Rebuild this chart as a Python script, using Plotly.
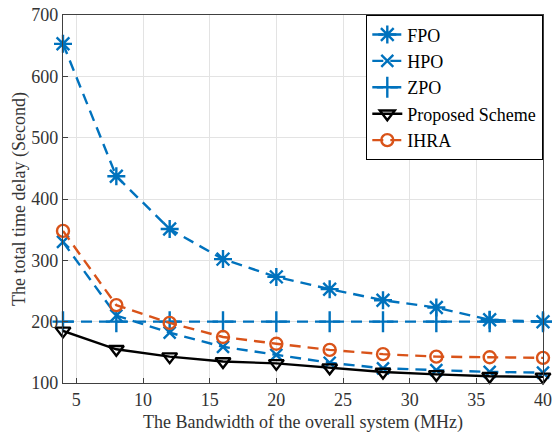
import plotly.graph_objects as go

bandwidth = [4, 8, 12, 16, 20, 24, 28, 32, 36, 40]
fpo = [653, 437, 351, 302, 273, 253, 235, 223, 203, 200]
hpo = [330, 210, 182, 159, 146, 133, 124, 121, 118, 117]
zpo = [200, 200, 200, 200, 200, 200, 200, 200, 200, 200]
proposed = [185, 155, 143, 135, 132, 125, 118, 114, 111, 110]
ihra = [348, 227, 198, 175, 164, 154, 147, 143, 142, 141]

blue = "#0072BD"
orange = "#D95319"

fig = go.Figure()

def add(name, y, color, symbol, dash, size=12):
    fig.add_trace(go.Scatter(
        x=bandwidth, y=y, name=name, mode="lines+markers",
        line=dict(color=color, width=2.4, dash=dash),
        marker=dict(symbol=symbol, size=size, color=color,
                    line=dict(color=color, width=2.4)),
        cliponaxis=False,
    ))

add("FPO", fpo, blue, "asterisk-open", "11px,7px", 15)
add("HPO", hpo, blue, "x-thin-open", "11px,7px", 12)
add("ZPO", zpo, blue, "cross-thin-open", "11px,7px", 15)
add("Proposed Scheme", proposed, "black", "triangle-down-open", "solid", 13)
add("IHRA", ihra, orange, "circle-open", "11px,7px", 12)

axis_common = dict(
    showline=True, mirror=True, linecolor="#404040", linewidth=1.3,
    ticks="inside", ticklen=5, tickcolor="#404040",
    showgrid=True, gridcolor="#e3e3e3", gridwidth=1,
    zeroline=False, automargin=False, ticklabeloverflow="allow",
    tickfont=dict(family="Liberation Serif", size=18, color="#333333"),
)

fig.update_layout(
    width=552, height=437,
    margin=dict(l=63, r=9, t=15, b=54),
    plot_bgcolor="white", paper_bgcolor="white",
    font=dict(family="Liberation Serif", size=18, color="#333333"),
    xaxis=dict(range=[4, 40], tickvals=[5, 10, 15, 20, 25, 30, 35, 40],
               title=dict(text="The Bandwidth of the overall system (MHz)",
                          font=dict(size=18), standoff=6),
               **axis_common),
    yaxis=dict(range=[100, 700], tickvals=[100, 200, 300, 400, 500, 600, 700],
               title=dict(text="The total time delay (Second)",
                          font=dict(size=18), standoff=0),
               **axis_common),
    legend=dict(x=1, y=1, xanchor="right", yanchor="top",
                bgcolor="white", bordercolor="black", borderwidth=1.3,
                font=dict(family="Liberation Serif", size=18, color="black"),
                tracegroupgap=0, itemwidth=30),
    showlegend=True,
)

fig.write_html("out.html",
               config={"displayModeBar": False},
               post_script="document.body.style.margin='0';document.body.style.overflow='hidden';")
